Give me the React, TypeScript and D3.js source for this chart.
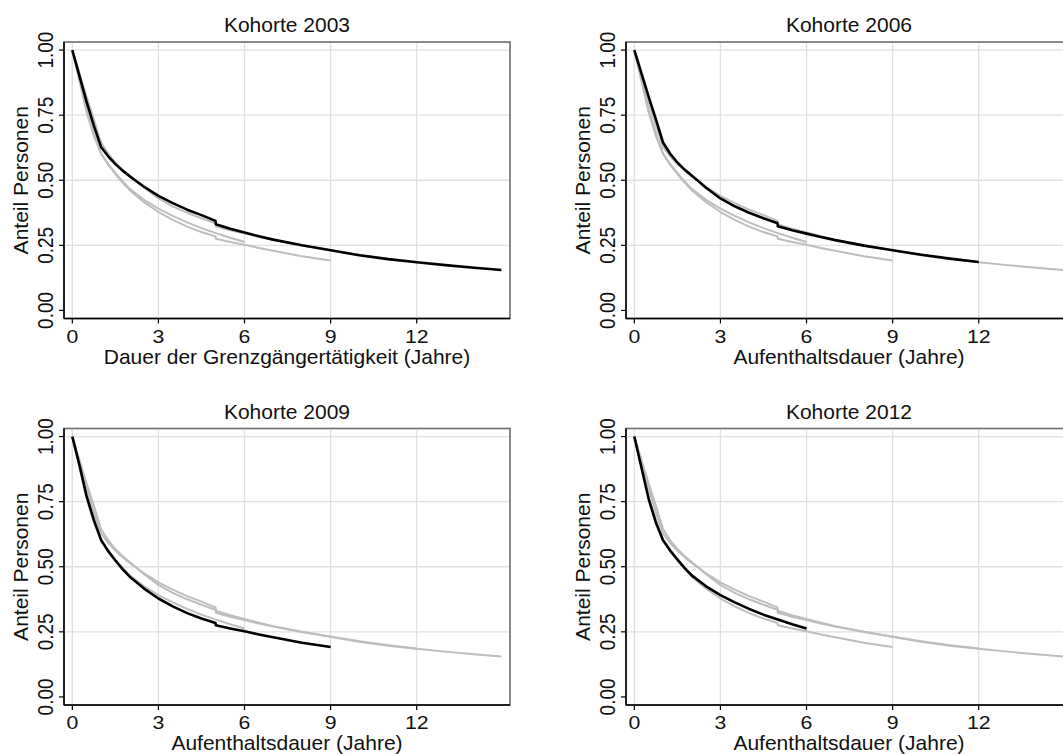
import { curveLinear, line, scaleLinear } from "d3";

// Kaplan-Meier style survival curves
const cohorts = ["2003", "2006", "2009", "2012"];

const years2003 = [0, 0.25, 0.5, 0.75, 1, 1.25, 1.5, 1.75, 2, 2.5, 3, 3.5, 4, 4.5, 4.99, 5, 5.5, 6, 6.5, 7, 8, 9, 10, 11, 12, 13, 14, 14.95];
const share2003 = [1.0, 0.9, 0.8, 0.71, 0.628, 0.592, 0.562, 0.537, 0.515, 0.475, 0.44, 0.412, 0.387, 0.366, 0.344, 0.331, 0.314, 0.299, 0.285, 0.272, 0.25, 0.231, 0.212, 0.197, 0.185, 0.174, 0.164, 0.155];

const years2006 = [0, 0.25, 0.5, 0.75, 1, 1.25, 1.5, 1.75, 2, 2.5, 3, 3.5, 4, 4.5, 4.99, 5, 5.5, 6, 6.5, 7, 8, 9, 10, 11, 12];
const share2006 = [1.0, 0.91, 0.82, 0.735, 0.645, 0.602, 0.568, 0.541, 0.518, 0.471, 0.43, 0.4, 0.375, 0.354, 0.335, 0.323, 0.308, 0.295, 0.282, 0.27, 0.249, 0.231, 0.214, 0.199, 0.186];

const years2009 = [0, 0.25, 0.5, 0.75, 1, 1.25, 1.5, 1.75, 2, 2.5, 3, 3.5, 4, 4.5, 4.99, 5, 5.5, 6, 6.5, 7, 8, 9];
const share2009 = [1.0, 0.89, 0.77, 0.68, 0.603, 0.56, 0.524, 0.491, 0.462, 0.416, 0.378, 0.348, 0.322, 0.301, 0.284, 0.275, 0.263, 0.252, 0.24, 0.229, 0.208, 0.192];

const years2012 = [0, 0.25, 0.5, 0.75, 1, 1.25, 1.5, 1.75, 2, 2.5, 3, 3.5, 4, 4.5, 5, 5.5, 6];
const share2012 = [1.0, 0.88, 0.76, 0.67, 0.602, 0.562, 0.528, 0.496, 0.467, 0.425, 0.391, 0.363, 0.338, 0.316, 0.297, 0.279, 0.263];

const xTicks = [0, 3, 6, 9, 12];
const yTicks = [0, 0.25, 0.5, 0.75, 1];
const xTitles = [
  "Dauer der Grenzgängertätigkeit (Jahre)",
  "Aufenthaltsdauer (Jahre)",
  "Aufenthaltsdauer (Jahre)",
  "Aufenthaltsdauer (Jahre)",
];
const yTitle = "Anteil Personen";

const curves = [
  { years: years2003, share: share2003 },
  { years: years2006, share: share2006 },
  { years: years2009, share: share2009 },
  { years: years2012, share: share2012 },
];

const W = 1063;
const H = 754;
const FONT = "'Liberation Sans', Arial, sans-serif";

type PanelProps = { idx: number; left: number; top: number };

const Panel = ({ idx, left, top }: PanelProps) => {
  const width = 446;
  const height = 276.5;
  const x = scaleLinear().domain([-0.29, 15.25]).range([left, left + width]);
  const y = scaleLinear().domain([-0.031, 1.031]).range([top + height, top]);

  const lineBuilder = line<[number, number]>()
    .curve(curveLinear)
    .x((d) => x(d[0]))
    .y((d) => y(d[1]));

  const paths = curves.map((c) => lineBuilder(c.years.map((t, i) => [t, c.share[i]] as [number, number]))!);

  return (
    <g>
      <text x={left + width / 2} y={top - 10} textAnchor="middle" fontSize={21} fontFamily={FONT} fill="#111">
        Kohorte {cohorts[idx]}
      </text>
      <rect x={left} y={top} width={width} height={height} fill="white" stroke="#6b6b6b" strokeWidth={1.6} />
      {xTicks.map((t) => (
        <line key={"gx" + t} x1={x(t)} x2={x(t)} y1={top + 1} y2={top + height} stroke="#e0e0e0" strokeWidth={1.3} />
      ))}
      {yTicks.filter((v) => v > 0).map((v) => (
        <line key={"gy" + v} x1={left} x2={left + width - 1} y1={y(v)} y2={y(v)} stroke="#e0e0e0" strokeWidth={1.3} />
      ))}
      {paths.map((p, i) =>
        i === idx ? null : (
          <path key={"g" + i} d={p} fill="none" stroke="#bdbdbd" strokeWidth={2} strokeLinejoin="round" />
        )
      )}
      <path d={paths[idx]} fill="none" stroke="#000" strokeWidth={2.6} strokeLinejoin="round" />
      <line x1={left} x2={left} y1={top} y2={top + height} stroke="#000" strokeWidth={1.5} />
      <line x1={left} x2={left + width} y1={top + height} y2={top + height} stroke="#000" strokeWidth={1.5} />
      {yTicks.map((v) => (
        <g key={"ty" + v}>
          <line x1={left - 5} x2={left} y1={y(v)} y2={y(v)} stroke="#000" strokeWidth={1.2} />
          <text
            transform={`translate(${left - 11},${y(v)}) rotate(-90) scale(1,1.15)`}
            textAnchor="middle"
            fontSize={19}
            fontFamily={FONT}
            fill="#111"
          >
            {v.toFixed(2)}
          </text>
        </g>
      ))}
      {xTicks.map((t) => (
        <g key={"tx" + t}>
          <line x1={x(t)} x2={x(t)} y1={top + height} y2={top + height + 5} stroke="#000" strokeWidth={1.2} />
          <text
            transform={`translate(${x(t)},${top + height + 24}) scale(1.12,1)`}
            textAnchor="middle"
            fontSize={19}
            fontFamily={FONT}
            fill="#111"
          >
            {t}
          </text>
        </g>
      ))}
      <text x={left + width / 2} y={top + height + 45} textAnchor="middle" fontSize={21} fontFamily={FONT} fill="#111">
        {xTitles[idx]}
      </text>
      <text
        transform={`translate(${left - 36},${top + height / 2}) rotate(-90)`}
        textAnchor="middle"
        fontSize={21}
        fontFamily={FONT}
        fill="#111"
      >
        {yTitle}
      </text>
    </g>
  );
};

export default function App() {
  return (
    <>
      <style>{`body{margin:0;}`}</style>
      <svg width={W} height={H} style={{ display: "block", background: "white" }}>
        <rect width={W} height={H} fill="white" />
        <Panel idx={0} left={64} top={42} />
        <Panel idx={1} left={626} top={42} />
        <Panel idx={2} left={64} top={428.5} />
        <Panel idx={3} left={626} top={428.5} />
      </svg>
    </>
  );
}
